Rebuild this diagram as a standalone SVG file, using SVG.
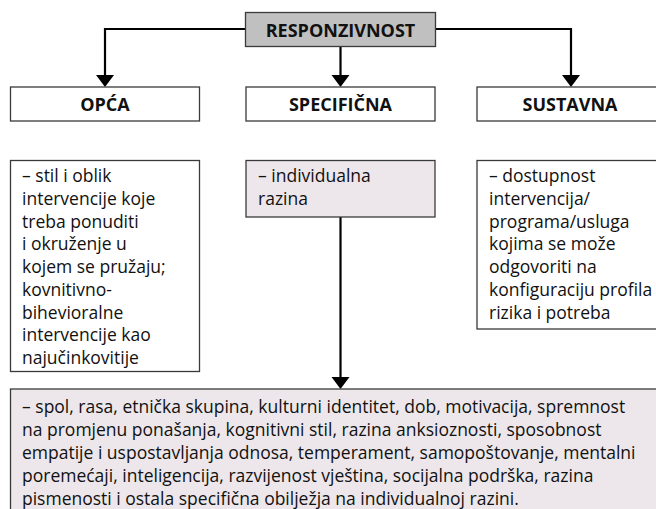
<svg xmlns="http://www.w3.org/2000/svg" width="656" height="509" viewBox="0 0 656 509">
<defs>
<style>
.box{stroke:#3a3a3a;stroke-width:1.3}
.white{fill:#ffffff}
.gray{fill:#c0c0c0}
.pink{fill:#ede7eb}
.title{font-family:"Open Sans","DejaVu Sans",sans-serif;font-weight:bold;font-size:18px;fill:#111;text-anchor:middle}
.body{font-family:"Open Sans","DejaVu Sans",sans-serif;font-size:17.5px;fill:#111}
.conn{stroke:#000;stroke-width:2.2;fill:none}
</style>
</defs>
<rect width="656" height="509" fill="#ffffff"/>
<g id="connectors">
<path class="conn" d="M245,29 H105 V75"/>
<path class="conn" d="M435,29 H571 V75"/>
<path class="conn" d="M340.5,47 V75"/>
<path class="conn" d="M340.5,217 V378"/>
<path d="M96,75 L114,75 L105,87 Z" fill="#000"/>
<path d="M331.5,75 L349.5,75 L340.5,87 Z" fill="#000"/>
<path d="M562,75 L580,75 L571,87 Z" fill="#000"/>
<path d="M331.5,377 L349.5,377 L340.5,389 Z" fill="#000"/>
</g>
<g id="responzivnost">
<rect class="box gray" x="245.5" y="12.5" width="190" height="34"/>
<text class="title" x="340.5" y="36.5">RESPONZIVNOST</text>
</g>
<g id="opca">
<rect class="box white" x="10.5" y="87" width="189" height="34"/>
<text class="title" x="105" y="110.5">OPĆA</text>
</g>
<g id="specificna">
<rect class="box white" x="246" y="87" width="189" height="34"/>
<text class="title" x="340.5" y="110.5">SPECIFIČNA</text>
</g>
<g id="sustavna">
<rect class="box white" x="477" y="87" width="190" height="34"/>
<text class="title" x="570" y="110.5">SUSTAVNA</text>
</g>
<g id="opca-text">
<rect class="box white" x="10.5" y="160.5" width="189" height="211"/>
<text class="body">
<tspan x="22" y="182">– stil i oblik</tspan>
<tspan x="22" y="204.75">intervencije koje</tspan>
<tspan x="22" y="227.5">treba ponuditi</tspan>
<tspan x="22" y="250.25">i okruženje u</tspan>
<tspan x="22" y="273">kojem se pružaju;</tspan>
<tspan x="22" y="295.75">kovnitivno-</tspan>
<tspan x="22" y="318.5">bihevioralne</tspan>
<tspan x="22" y="341.25">intervencije kao</tspan>
<tspan x="22" y="364">najučinkovitije</tspan>
</text>
</g>
<g id="specificna-text">
<rect class="box pink" x="246" y="160.5" width="189" height="56.5"/>
<text class="body">
<tspan x="258" y="182">– individualna</tspan>
<tspan x="258" y="204.75">razina</tspan>
</text>
</g>
<g id="sustavna-text">
<rect class="box white" x="477" y="160.5" width="190" height="168.5"/>
<text class="body">
<tspan x="489" y="182">– dostupnost</tspan>
<tspan x="489" y="204.75">intervencija/</tspan>
<tspan x="489" y="227.5">programa/usluga</tspan>
<tspan x="489" y="250.25">kojima se može</tspan>
<tspan x="489" y="273">odgovoriti na</tspan>
<tspan x="489" y="295.75">konfiguraciju profila</tspan>
<tspan x="489" y="318.5">rizika i potreba</tspan>
</text>
</g>
<g id="individualna-obiljezja">
<rect class="box pink" x="10.5" y="389" width="670" height="140"/>
<text class="body">
<tspan x="22" y="412.5">– spol, rasa, etnička skupina, kulturni identitet, dob, motivacija, spremnost</tspan>
<tspan x="22" y="435.7">na promjenu ponašanja, kognitivni stil, razina anksioznosti, sposobnost</tspan>
<tspan x="22" y="458.9">empatije i uspostavljanja odnosa, temperament, samopoštovanje, mentalni</tspan>
<tspan x="22" y="482.1">poremećaji, inteligencija, razvijenost vještina, socijalna podrška, razina</tspan>
<tspan x="22" y="505.3">pismenosti i ostala specifična obilježja na individualnoj razini.</tspan>
</text>
</g>
</svg>
